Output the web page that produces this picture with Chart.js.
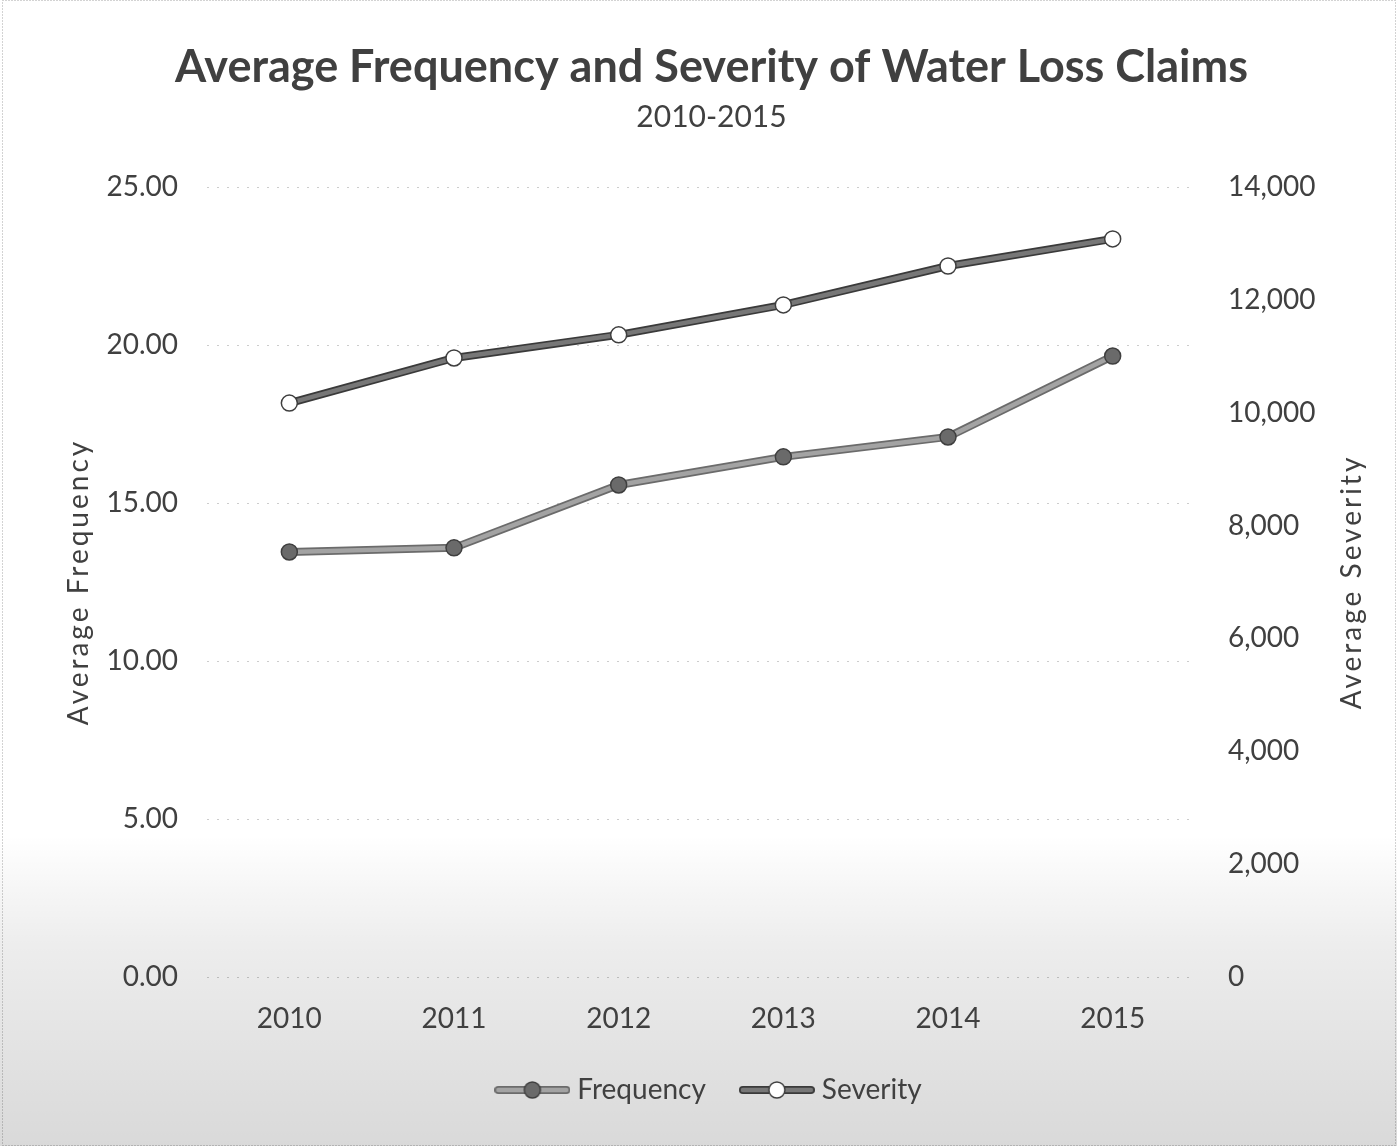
<!DOCTYPE html>
<html>
<head>
<meta charset="utf-8">
<script src="https://cdn.jsdelivr.net/npm/chart.js@4.4.1/dist/chart.umd.min.js"></script>
<style>
  html, body { margin: 0; padding: 0; background: #fff; }
  #wrap { width: 1397px; height: 1146px; }
</style>
</head>
<body>
<div id="wrap"><canvas id="chart" width="1397" height="1146"></canvas></div>
<script>
// Claim statistics by year
const years = ['2010', '2011', '2012', '2013', '2014', '2015'];
const frequency = [13.45, 13.58, 15.57, 16.46, 17.09, 19.65];
const severity = [10170, 10970, 11380, 11910, 12600, 13080];

// Axis ranges: [min, max, step]
const frequencyAxis = [0, 25, 5];
const severityAxis = [0, 14000, 2000];

const INK = '#404040';
const FONT = 'Lato';

// Line + marker swatch used in the legend
function swatch(lineFill, lineEdge, dotFill, dotEdge) {
  const c = document.createElement('canvas');
  c.width = 76; c.height = 22;
  const g = c.getContext('2d');
  g.lineCap = 'round';
  g.strokeStyle = lineEdge; g.lineWidth = 8;
  g.beginPath(); g.moveTo(4, 11); g.lineTo(72, 11); g.stroke();
  g.strokeStyle = lineFill; g.lineWidth = 4.5;
  g.beginPath(); g.moveTo(4, 11); g.lineTo(72, 11); g.stroke();
  g.beginPath(); g.arc(38, 11, 8, 0, Math.PI * 2);
  g.fillStyle = dotFill; g.fill();
  g.lineWidth = 1.5; g.strokeStyle = dotEdge; g.stroke();
  return c;
}

const swatches = {
  'Frequency': swatch('#a3a3a3', '#6b6b6b', '#6a6a6a', '#3f3f3f'),
  'Severity': swatch('#777777', '#3a3a3a', '#ffffff', '#3f3f3f')
};

// Paper background, lower shading and faint frame
const paper = {
  id: 'paper',
  beforeDraw(chart) {
    const { ctx, width, height } = chart;
    ctx.save();
    ctx.fillStyle = '#ffffff';
    ctx.fillRect(0, 0, width, height);
    const grad = ctx.createLinearGradient(0, 835, 0, height);
    grad.addColorStop(0, 'rgba(0,0,0,0)');
    grad.addColorStop(0.35, 'rgba(0,0,0,0.07)');
    grad.addColorStop(1, 'rgba(0,0,0,0.15)');
    ctx.fillStyle = grad;
    ctx.fillRect(0, 835, width, height - 835);
    ctx.strokeStyle = 'rgba(0,0,0,0.35)';
    ctx.setLineDash([1, 2]);
    ctx.lineWidth = 1;
    ctx.strokeRect(2.5, 0.5, width - 4, height - 1);
    ctx.restore();
  }
};

// Vertical axis titles, both reading bottom to top
const axisTitles = {
  id: 'axisTitles',
  afterDraw(chart) {
    const { ctx, chartArea } = chart;
    const midY = (chartArea.top + chartArea.bottom) / 2;
    const draw = (text, x) => {
      ctx.save();
      ctx.translate(x, midY);
      ctx.rotate(-Math.PI / 2);
      ctx.font = `28px ${FONT}`;
      ctx.letterSpacing = '3px';
      ctx.fillStyle = INK;
      ctx.textAlign = 'center';
      ctx.textBaseline = 'middle';
      ctx.fillText(text, 0, 0);
      ctx.restore();
    };
    draw('Average Frequency', chart.scales.y.left + 53);
    draw('Average Severity', chart.scales.y1.right - 45);
  }
};

new Chart(document.getElementById('chart'), {
  type: 'line',
  data: {
    labels: years,
    datasets: [
      {
        label: 'Frequency',
        data: frequency,
        yAxisID: 'y',
        borderColor: '#a3a3a3',
        borderWidth: 4.5,
        pointRadius: 8,
        pointBackgroundColor: '#6a6a6a',
        pointBorderColor: '#3f3f3f',
        pointBorderWidth: 1.5,
        tension: 0,
        order: 0
      },
      {
        label: 'Severity',
        data: severity,
        yAxisID: 'y1',
        borderColor: '#777777',
        borderWidth: 4.5,
        pointRadius: 8,
        pointBackgroundColor: '#ffffff',
        pointBorderColor: '#3f3f3f',
        pointBorderWidth: 1.5,
        tension: 0,
        order: 0
      },
      // darker edges drawn under each line
      {
        label: '',
        data: frequency,
        yAxisID: 'y',
        borderColor: '#6b6b6b',
        borderWidth: 8,
        pointRadius: 0,
        tension: 0,
        order: 1
      },
      {
        label: '',
        data: severity,
        yAxisID: 'y1',
        borderColor: '#3a3a3a',
        borderWidth: 8,
        pointRadius: 0,
        tension: 0,
        order: 1
      }
    ]
  },
  options: {
    responsive: false,
    animation: false,
    devicePixelRatio: 1,
    layout: { padding: { left: 26, right: 0, top: 0, bottom: 32 } },
    plugins: {
      tooltip: { enabled: false },
      title: {
        display: true,
        text: 'Average Frequency and Severity of Water Loss Claims',
        color: INK,
        font: { family: FONT, size: 45, weight: 'bold', lineHeight: 1.2 },
        padding: { top: 40, bottom: 0 }
      },
      subtitle: {
        display: true,
        text: '2010-2015',
        color: INK,
        font: { family: FONT, size: 30, lineHeight: 1.2 },
        padding: { top: 5.4, bottom: 51.6 }
      },
      legend: {
        position: 'bottom',
        labels: {
          color: INK,
          font: { family: FONT, size: 28 },
          usePointStyle: true,
          pointStyleWidth: 62,
          padding: 40,
          generateLabels(chart) {
            return Chart.defaults.plugins.legend.labels.generateLabels(chart)
              .filter(item => item.text)
              .map(item => Object.assign(item, { pointStyle: swatches[item.text] }));
          }
        }
      }
    },
    scales: {
      x: {
        offset: true,
        grid: { display: false },
        border: { display: false },
        ticks: { color: INK, font: { family: FONT, size: 28 }, padding: 17 },
        afterFit(s) { s.height = 59; }
      },
      y: {
        position: 'left',
        min: frequencyAxis[0],
        max: frequencyAxis[1],
        grid: { color: 'rgba(0,0,0,0.2)', lineWidth: 1, drawTicks: false },
        border: { display: false, dash: [2, 8] },
        ticks: {
          stepSize: frequencyAxis[2],
          color: INK,
          font: { family: FONT, size: 28 },
          padding: 29,
          callback: v => v.toFixed(2)
        },
        afterFit(s) { s.width = 181; }
      },
      y1: {
        position: 'right',
        min: severityAxis[0],
        max: severityAxis[1],
        grid: { display: false, drawOnChartArea: false },
        border: { display: false },
        ticks: {
          stepSize: severityAxis[2],
          color: INK,
          font: { family: FONT, size: 28 },
          padding: 25,
          callback: v => v.toLocaleString('en-US')
        },
        afterFit(s) { s.width = 202; }
      }
    }
  },
  plugins: [paper, axisTitles]
});
</script>
</body>
</html>
